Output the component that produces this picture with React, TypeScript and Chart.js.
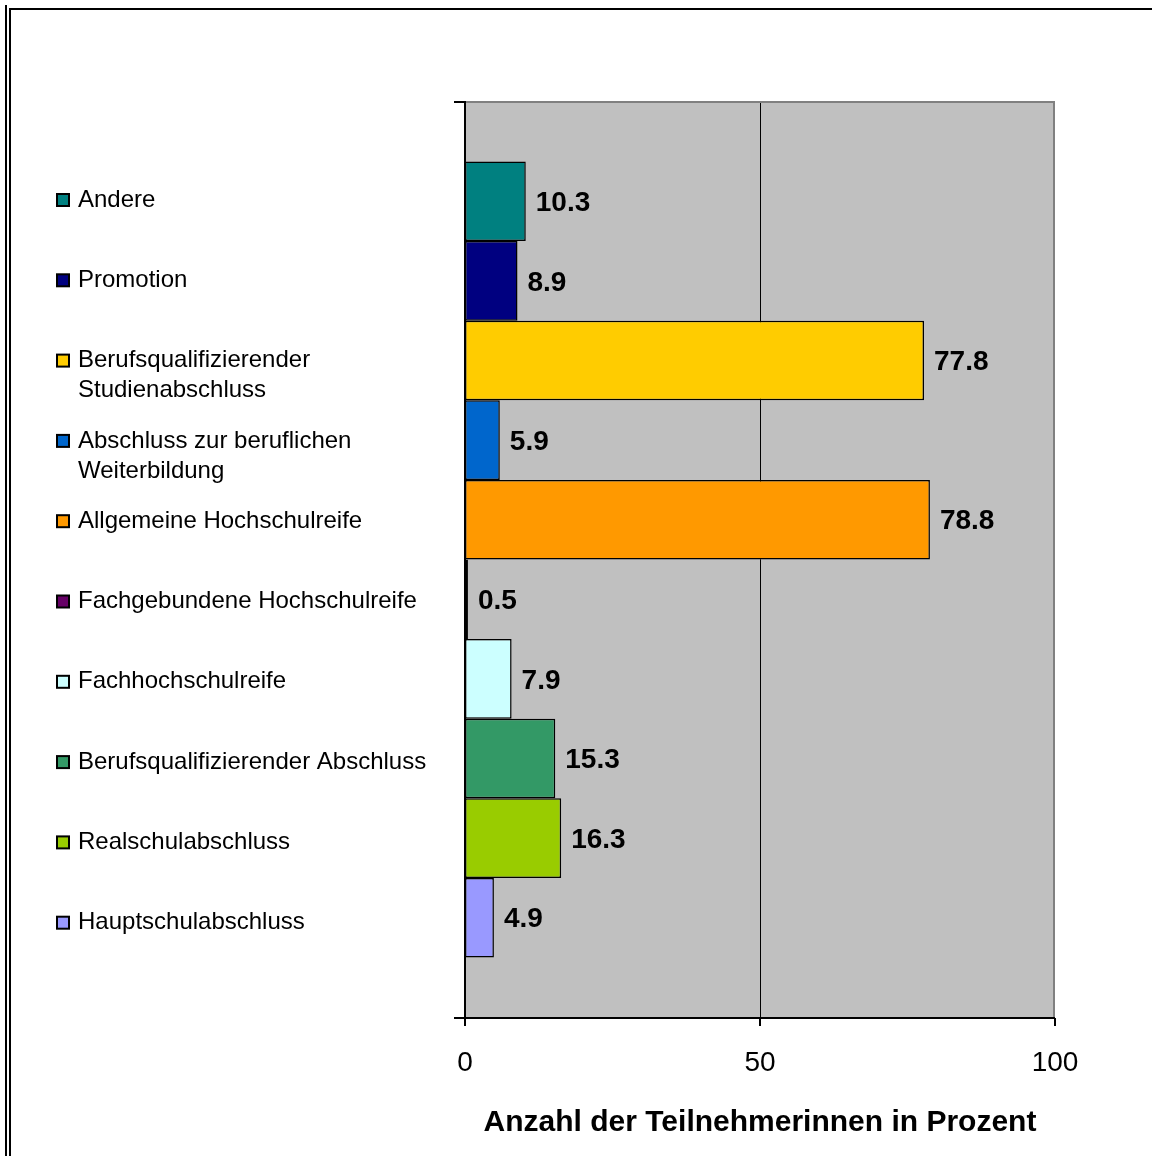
import React, { useEffect, useRef } from "react";
import { Chart, registerables } from "chart.js";

Chart.register(...registerables);

const seriesNames: string[][] = [
  ["Andere"],
  ["Promotion"],
  ["Berufsqualifizierender", "Studienabschluss"],
  ["Abschluss zur beruflichen", "Weiterbildung"],
  ["Allgemeine Hochschulreife"],
  ["Fachgebundene Hochschulreife"],
  ["Fachhochschulreife"],
  ["Berufsqualifizierender Abschluss"],
  ["Realschulabschluss"],
  ["Hauptschulabschluss"],
];
const seriesValues: number[] = [10.3, 8.9, 77.8, 5.9, 78.8, 0.5, 7.9, 15.3, 16.3, 4.9];
const seriesColors: string[] = [
  "#008080",
  "#000080",
  "#FFCC00",
  "#0066CC",
  "#FF9900",
  "#660066",
  "#CCFFFF",
  "#339966",
  "#99CC00",
  "#9999FF",
];
const xTicks: number[] = [0, 50, 100];
const xGridValues: number[] = [50];
const xTitle = "Anzahl der Teilnehmerinnen in Prozent";

const FONT = '"Liberation Sans", Arial, sans-serif';

export default function App() {
  const ref = useRef<HTMLCanvasElement | null>(null);

  useEffect(() => {
    document.documentElement.style.overflow = "hidden";
    document.body.style.margin = "0";
    const canvas = ref.current!;
    const decor = {
      id: "decor",
      beforeDraw(chart: any) {
        const ctx = chart.ctx;
        ctx.save();
        ctx.fillStyle = "#ffffff";
        ctx.fillRect(0, 0, chart.width, chart.height);
        ctx.restore();
      },
      beforeDatasetsDraw(chart: any) {
        const ctx = chart.ctx;
        const a = chart.chartArea;
        const xs = chart.scales.x;
        ctx.save();
        ctx.fillStyle = "#C0C0C0";
        ctx.fillRect(a.left, a.top, a.right - a.left, a.bottom - a.top);
        ctx.strokeStyle = "#000000";
        ctx.lineWidth = 1;
        for (const v of xGridValues) {
          const px = Math.round(xs.getPixelForValue(v)) + 0.5;
          ctx.beginPath();
          ctx.moveTo(px, a.top);
          ctx.lineTo(px, a.bottom);
          ctx.stroke();
        }
        ctx.restore();
      },
      afterDatasetsDraw(chart: any) {
        const ctx = chart.ctx;
        const a = chart.chartArea;
        const xs = chart.scales.x;
        ctx.save();
        // plot border top / right (gray)
        ctx.strokeStyle = "#808080";
        ctx.lineWidth = 2;
        ctx.beginPath();
        ctx.moveTo(a.left, a.top + 1);
        ctx.lineTo(a.right - 1, a.top + 1);
        ctx.lineTo(a.right - 1, a.bottom);
        ctx.stroke();
        // axes (black)
        ctx.strokeStyle = "#000000";
        ctx.lineWidth = 2;
        ctx.beginPath();
        ctx.moveTo(a.left, a.top);
        ctx.lineTo(a.left, a.bottom);
        ctx.moveTo(a.left - 11, a.top + 1);
        ctx.lineTo(a.left, a.top + 1);
        ctx.moveTo(a.left - 11, a.bottom);
        ctx.lineTo(a.right, a.bottom);
        ctx.stroke();
        // x ticks
        ctx.beginPath();
        for (const v of xTicks) {
          const px = xs.getPixelForValue(v);
          ctx.moveTo(px, a.bottom);
          ctx.lineTo(px, a.bottom + 8);
        }
        ctx.stroke();
        // x tick labels
        ctx.fillStyle = "#000000";
        ctx.font = `28px ${FONT}`;
        ctx.textAlign = "center";
        ctx.textBaseline = "middle";
        for (const v of xTicks) {
          ctx.fillText(String(v), xs.getPixelForValue(v), a.bottom + 45);
        }
        // axis title
        ctx.font = `bold 30px ${FONT}`;
        ctx.fillText(xTitle, (a.left + a.right) / 2, a.bottom + 105);
        // data labels
        ctx.font = `bold 28px ${FONT}`;
        ctx.textAlign = "left";
        chart.data.datasets.forEach((ds: any, i: number) => {
          const el = chart.getDatasetMeta(i).data[0] as any;
          ctx.fillText(String(ds.data[0]), el.x + 10, el.y + 2);
        });
        // legend
        ctx.font = `24px ${FONT}`;
        seriesNames.forEach((lines, i) => {
          const y0 = 200 + i * 80.3;
          ctx.fillStyle = seriesColors[i];
          ctx.fillRect(57, y0 - 6, 12, 12);
          ctx.strokeStyle = "#000000";
          ctx.lineWidth = 2;
          ctx.strokeRect(57, y0 - 6, 12, 12);
          ctx.fillStyle = "#000000";
          lines.forEach((t, j) => {
            ctx.fillText(t, 78, y0 + j * 30);
          });
        });
        // outer frame
        ctx.fillStyle = "#000000";
        ctx.fillRect(5, 5, 2, chart.height);
        ctx.fillRect(9, 8, 2, chart.height);
        ctx.fillRect(9, 8, chart.width, 2);
        ctx.restore();
      },
    };

    const chart = new Chart(canvas, {
      type: "bar",
      data: {
        labels: [""],
        datasets: seriesNames.map((n, i) => ({
          label: n.join(" "),
          data: [seriesValues[i]],
          backgroundColor: seriesColors[i],
          borderColor: "#000000",
          borderWidth: 1.5,
          borderSkipped: false,
          categoryPercentage: 0.868,
          barPercentage: 1,
        })),
      },
      options: {
        indexAxis: "y",
        responsive: false,
        animation: false,
        layout: { padding: { left: 465, top: 101, right: 97, bottom: 138 } },
        scales: {
          x: { min: 0, max: 100, display: false },
          y: { display: false },
        },
        plugins: {
          legend: { display: false },
          tooltip: { enabled: false },
        },
      },
      plugins: [decor],
    } as any);
    return () => chart.destroy();
  }, []);

  return (
    <div style={{ position: "absolute", left: 0, top: 0, width: 1152, height: 1156 }}>
      <canvas ref={ref} width={1152} height={1156} style={{ display: "block" }} />
    </div>
  );
}
